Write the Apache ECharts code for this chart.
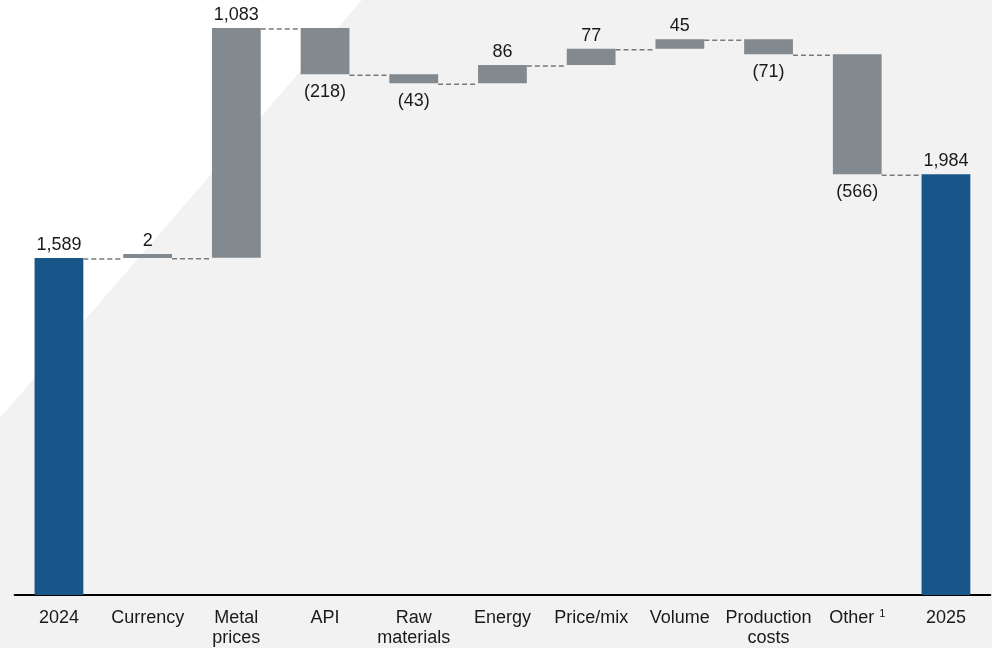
<!DOCTYPE html>
<html>
<head>
<meta charset="utf-8">
<script src="https://cdn.jsdelivr.net/npm/echarts@6/dist/echarts.min.js"></script>
<style>
html,body{margin:0;padding:0;background:#fff;}
#chart{width:992px;height:648px;}
</style>
</head>
<body>
<div id="chart"></div>
<script>
const categories = ['2024', 'Currency', 'Metal\nprices', 'API', 'Raw\nmaterials', 'Energy', 'Price/mix', 'Volume', 'Production\ncosts', 'Other', '2025'];
const values = [1589, 2, 1083, -218, -43, 86, 77, 45, -71, -566, 1984];
const isTotal = [true, false, false, false, false, false, false, false, false, false, true];

const TOTAL_COLOR = '#18568a';
const DELTA_COLOR = '#82898f';
const FONT = "'Liberation Sans', Arial, sans-serif";

// running totals
const cumulative = [];
let run = 0;
values.forEach((v, i) => {
  if (isTotal[i]) run = v; else run += v;
  cumulative.push(run);
});

const baseData = [];
const barData = [];
values.forEach((v, i) => {
  let base, h;
  if (isTotal[i]) { base = 0; h = v; }
  else {
    const before = cumulative[i] - v;
    base = Math.min(before, cumulative[i]);
    h = Math.abs(v);
  }
  baseData.push(base);
  const neg = !isTotal[i] && v < 0;
  barData.push({
    value: h,
    itemStyle: { color: isTotal[i] ? TOTAL_COLOR : DELTA_COLOR },
    label: {
      position: neg ? 'bottom' : 'top',
      distance: neg ? 9 : 4,
      formatter: neg ? '(' + Math.abs(v).toLocaleString('en-US') + ')' : v.toLocaleString('en-US')
    }
  });
});

const connectorData = [];
for (let i = 0; i < values.length - 1; i++) connectorData.push([i, cumulative[i]]);

const BAR_RATIO = 0.55;

const chart = echarts.init(document.getElementById('chart'));
chart.setOption({
  backgroundColor: '#ffffff',
  animation: false,
  graphic: [{
    type: 'polygon',
    z: -10,
    silent: true,
    shape: { points: [[362, 0], [992, 0], [992, 648], [0, 648], [0, 418]] },
    style: { fill: '#f2f2f2' }
  }],
  grid: { left: 14.6, right: 1.7, top: 0, bottom: 50.5, containLabel: false },
  xAxis: {
    type: 'category',
    data: categories,
    axisLine: { show: true, lineStyle: { color: '#000', width: 2 } },
    axisTick: { show: false },
    splitLine: { show: false },
    axisLabel: {
      interval: 0,
      margin: 13,
      color: '#1a1a1a',
      fontSize: 18,
      fontFamily: FONT,
      lineHeight: 20,
      formatter: function (v) { return v === 'Other' ? 'Other {sup|1}' : v; },
      rich: {
        sup: { fontSize: 11, fontFamily: FONT, color: '#1a1a1a', verticalAlign: 'top', lineHeight: 20, padding: [0, 0, 0, 0] }
      }
    }
  },
  yAxis: {
    type: 'value',
    min: 0,
    max: 2806,
    show: false,
    splitLine: { show: false }
  },
  series: [
    {
      type: 'bar',
      stack: 'wf',
      data: baseData,
      barWidth: (BAR_RATIO * 100) + '%',
      itemStyle: { color: 'transparent' },
      silent: true
    },
    {
      type: 'bar',
      stack: 'wf',
      data: barData,
      barWidth: (BAR_RATIO * 100) + '%',
      barMinHeight: 4,
      label: {
        show: true,
        color: '#1a1a1a',
        fontSize: 18,
        fontFamily: FONT
      }
    },
    {
      type: 'custom',
      data: connectorData,
      z: 3,
      silent: true,
      renderItem: function (params, api) {
        const i = api.value(0);
        const v = api.value(1);
        const p1 = api.coord([i, v]);
        const p2 = api.coord([i + 1, v]);
        const half = api.size([1, 0])[0] * BAR_RATIO / 2;
        return {
          type: 'line',
          shape: { x1: p1[0] + half, y1: p1[1] + 1, x2: p2[0] - half, y2: p2[1] + 1 },
          style: { stroke: '#7a7a7a', lineWidth: 1.5, lineDash: [5, 3] }
        };
      }
    }
  ]
});
</script>
</body>
</html>
